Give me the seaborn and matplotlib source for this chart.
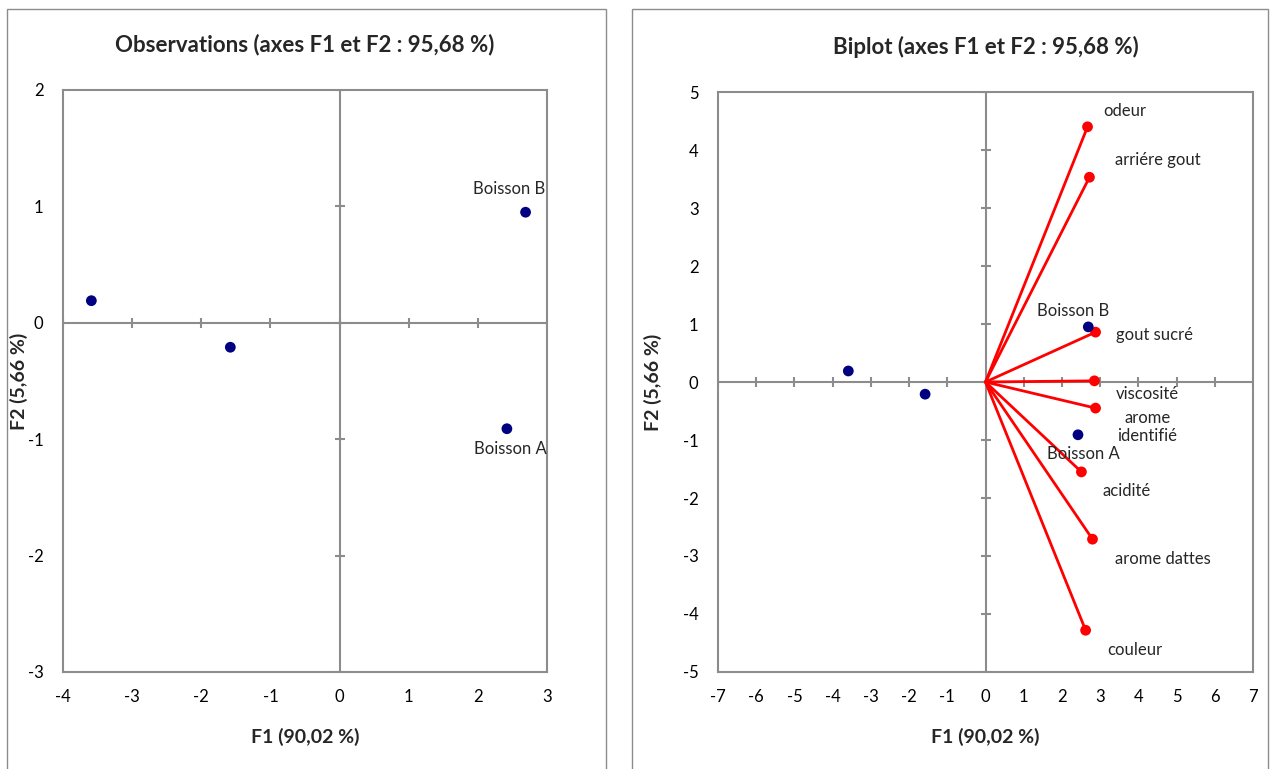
# -*- coding: utf-8 -*-
'''
ACP : observations et biplot (axes F1 et F2)
'''

import numpy as np
import pandas as pd
import seaborn as sns
import matplotlib.pyplot as plt
from matplotlib.patches import Rectangle

# observations
obs_names = ['', '', 'Boisson B', 'Boisson A']
obs_f1 = [-3.59, -1.58, 2.69, 2.42]
obs_f2 = [0.19, -0.21, 0.95, -0.91]

# variables (biplot)
var_names = ['odeur', 'arriére gout', 'gout sucré', 'viscosité',
             'arome\nidentifié', 'acidité', 'arome dattes', 'couleur']
var_f1 = [2.67, 2.72, 2.88, 2.85, 2.88, 2.51, 2.80, 2.62]
var_f2 = [4.40, 3.53, 0.86, 0.02, -0.45, -1.55, -2.71, -4.28]

title_obs = 'Observations (axes F1 et F2 : 95,68 %)'
title_bip = 'Biplot (axes F1 et F2 : 95,68 %)'
xlab = 'F1 (90,02 %)'
ylab = 'F2 (5,66 %)'

sns.set_style('white')
plt.rcParams['font.family'] = ['Lato', 'DejaVu Sans']
plt.rcParams['axes.unicode_minus'] = False

GREY = '#8c8c8c'
NAVY = '#000080'
RED = '#ff0000'

df_obs = pd.DataFrame({'F1': obs_f1, 'F2': obs_f2, 'nom': obs_names})
df_var = pd.DataFrame({'F1': var_f1, 'F2': var_f2, 'nom': var_names})

fig = plt.figure(figsize=(12.76, 7.69), dpi=100)

# chart area borders
fig.add_artist(Rectangle((7/1276, -0.05), 599/1276, 1.05 - 9/769,
                         transform=fig.transFigure, fill=False, ec=GREY, lw=1))
fig.add_artist(Rectangle((632/1276, -0.05), 636/1276, 1.05 - 9/769,
                         transform=fig.transFigure, fill=False, ec=GREY, lw=1))

ax1 = fig.add_axes([63/1276, 97/769, 484/1276, 582/769])
ax2 = fig.add_axes([718/1276, 97/769, 535/1276, 580/769])


def style_axes(ax, xlim, ylim, title, ylab_px):
    ax.set_xlim(*xlim)
    ax.set_ylim(*ylim)
    xt = np.arange(xlim[0], xlim[1] + 1)
    yt = np.arange(ylim[0], ylim[1] + 1)
    ax.set_xticks(xt)
    ax.set_yticks(yt)
    ax.tick_params(length=0, labelsize=12, colors='black')
    ax.tick_params(axis='x', pad=12)
    ax.tick_params(axis='y', pad=14)
    for s in ax.spines.values():
        s.set_color(GREY)
        s.set_linewidth(1.5)
        s.set_visible(True)
    ax.axhline(0, color=GREY, lw=1.5, zorder=1)
    ax.axvline(0, color=GREY, lw=1.5, zorder=1)
    # cross ticks on the zero lines
    ax.scatter(xt, np.zeros_like(xt), marker='|', s=60, color=GREY, lw=1.5, zorder=1)
    ax.scatter(np.zeros_like(yt), yt, marker='_', s=60, color=GREY, lw=1.5, zorder=1)
    w, h = ax.bbox.width, ax.bbox.height
    ax.set_xlabel(xlab, fontsize=14, fontweight='bold')
    ax.set_ylabel(ylab, fontsize=14, fontweight='bold')
    ax.xaxis.set_label_coords(0.5, -56 / h)
    ax.yaxis.set_label_coords(-ylab_px / w, 0.5)
    ax.set_title(title, fontsize=16, fontweight='bold', y=1 + 45 / h, va='center', pad=0)


# --- observations
style_axes(ax1, (-4, 3), (-3, 2), title_obs, 35)
sns.scatterplot(data=df_obs, x='F1', y='F2', ax=ax1, color=NAVY, s=60,
                edgecolor='none', zorder=3, legend=False)
obs_off = {'Boisson B': (-16, 23), 'Boisson A': (3, -20)}
for _, r in df_obs.iterrows():
    if r['nom']:
        ax1.annotate(r['nom'], (r['F1'], r['F2']), xytext=obs_off[r['nom']],
                     textcoords='offset pixels', ha='center', va='center', fontsize=12)

# --- biplot
style_axes(ax2, (-7, 7), (-5, 5), title_bip, 56)
for _, r in df_var.iterrows():
    ax2.plot([0, r['F1']], [0, r['F2']], color=RED, lw=2, zorder=2)
sns.scatterplot(data=df_var, x='F1', y='F2', ax=ax2, color=RED, s=60,
                edgecolor='none', zorder=3, legend=False)
sns.scatterplot(data=df_obs, x='F1', y='F2', ax=ax2, color=NAVY, s=60,
                edgecolor='none', zorder=3, legend=False)
bip_obs_off = {'Boisson B': (-15, 16), 'Boisson A': (5, -19)}
for _, r in df_obs.iterrows():
    if r['nom']:
        ax2.annotate(r['nom'], (r['F1'], r['F2']), xytext=bip_obs_off[r['nom']],
                     textcoords='offset pixels', ha='center', va='center', fontsize=12)
var_off = [(37, 16), (68, 17), (59, -3), (53, -13), (52, -19), (45, -19), (70, -20), (49, -20)]
for (_, r), off in zip(df_var.iterrows(), var_off):
    ax2.annotate(r['nom'], (r['F1'], r['F2']), xytext=off,
                 textcoords='offset pixels', ha='center', va='center', fontsize=12)

fig.savefig('out.png', dpi=100)
